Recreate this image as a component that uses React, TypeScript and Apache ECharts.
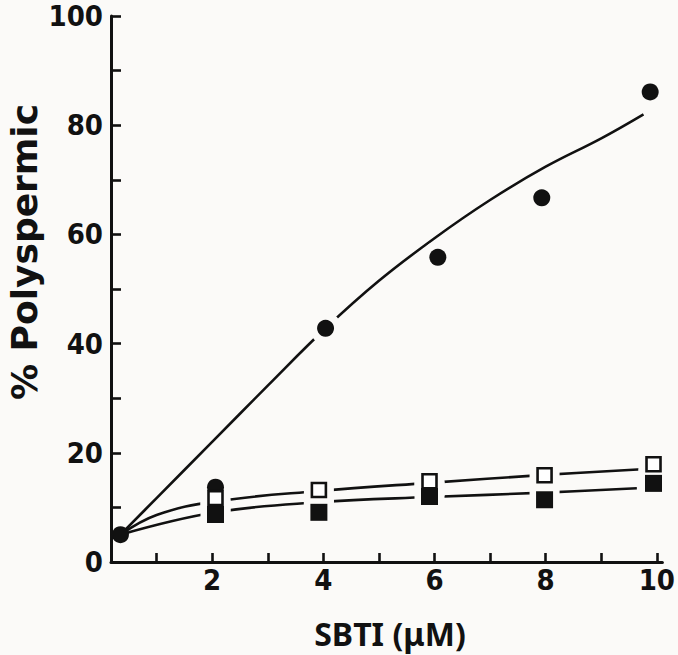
import React, { useEffect, useRef } from "react";
import * as echarts from "echarts";

// ---- data ----
// Filled circles (marker positions)
const circleX = [0.35, 2.06, 4.04, 6.06, 7.93, 9.88];
const circleY = [5, 13.7, 42.8, 55.8, 66.7, 86.1];
// Open squares
const openX = [2.06, 3.92, 5.91, 7.98, 9.94];
const openY = [11.7, 13.2, 14.8, 15.9, 17.9];
// Filled squares
const filledX = [2.06, 3.92, 5.91, 7.98, 9.94];
const filledY = [8.7, 9.1, 12.0, 11.4, 14.4];
// Fitted curve through circles
const circleFitX = [0.35, 1, 2, 3, 4.04, 5, 6, 7, 8, 9, 9.76];
const circleFitY = [5, 11.7, 22, 32.3, 42.8, 51.5, 59.3, 66.3, 72.4, 77.6, 82];
// Fitted line through open squares
const openFitX = [0.35, 1.0, 2.06, 3.92, 5.91, 7.98, 9.73];
const openFitY = [5, 8.6, 11.1, 13.0, 14.5, 15.95, 17.0];
// Fitted line through filled squares
const filledFitX = [0.35, 2.06, 3.92, 5.91, 7.98, 9.64];
const filledFitY = [5, 9.1, 10.95, 11.9, 12.7, 13.5];
// Axis ticks / labels
const xTicks = [1, 2, 3, 4, 5, 6, 7, 8, 9, 10];
const xLabels = [2, 4, 6, 8, 10];
const yTicks = [0, 10, 20, 30, 40, 50, 60, 70, 80, 90, 100];
const yLabels = [0, 20, 40, 60, 80, 100];

const xTitle = "SBTI (\u03bcM)";
const yTitle = "% Polyspermic";

const BG = "#fbfaf8";
const INK = "#111111";
const NUM_FONT = "'Liberation Sans Narrow', 'DejaVu Sans Condensed', Lato, sans-serif";

const zip = (xs: number[], ys: number[]) => xs.map((x, i) => [x, ys[i]]);

export default function App() {
  const ref = useRef<HTMLDivElement | null>(null);

  useEffect(() => {
    if (!ref.current) return;
    const chart = echarts.init(ref.current, null, { renderer: "svg" });

    const axisCommon = {
      type: "value" as const,
      axisLine: { show: true, onZero: false, lineStyle: { color: INK, width: 3 } },
      splitLine: { show: false },
    };

    const halo = (data: number[][], symbol: string, size: number) => ({
      type: "scatter",
      data,
      symbol,
      symbolSize: size,
      itemStyle: { color: BG, opacity: 1, borderWidth: 0 },
      emphasis: { disabled: true },
      z: 3,
      silent: true,
    });

    chart.setOption({
      animation: false,
      backgroundColor: BG,
      grid: { left: 111, right: 9, top: 16, bottom: 93, containLabel: false },
      xAxis: {
        ...axisCommon,
        min: 0.18,
        max: 10.1,
        axisTick: {
          show: true,
          inside: true,
          length: 9,
          customValues: xTicks,
          lineStyle: { color: INK, width: 2.6 },
        },
        axisLabel: {
          customValues: xLabels,
          margin: 3,
          fontSize: 29,
          fontWeight: "bold",
          fontFamily: NUM_FONT,
          color: INK,
        },
      },
      yAxis: {
        ...axisCommon,
        min: 0,
        max: 100,
        axisTick: {
          show: true,
          inside: true,
          length: 10,
          customValues: yTicks,
          lineStyle: { color: INK, width: 2.6 },
        },
        axisLabel: {
          customValues: yLabels,
          margin: 8,
          fontSize: 29,
          fontWeight: "bold",
          fontFamily: NUM_FONT,
          color: INK,
        },
      },
      graphic: [
        {
          type: "text",
          x: 390,
          y: 633,
          style: {
            text: xTitle,
            fill: INK,
            font: "bold 32px 'Noto Sans', sans-serif",
            lineHeight: 34,
            textAlign: "center",
            textVerticalAlign: "middle",
          },
        },
        {
          type: "text",
          x: 24,
          y: 252,
          rotation: Math.PI / 2,
          style: {
            text: yTitle,
            fill: INK,
            font: "bold 36px 'DejaVu Sans', sans-serif",
            textAlign: "center",
            textVerticalAlign: "middle",
          },
        },
      ],
      series: [
        {
          type: "line",
          data: zip(circleFitX, circleFitY),
          showSymbol: false,
          smooth: 0.4,
          lineStyle: { color: INK, width: 2.6 },
          z: 1,
          silent: true,
        },
        {
          type: "line",
          data: zip(openFitX, openFitY),
          showSymbol: false,
          smooth: 0.4,
          lineStyle: { color: INK, width: 2.6 },
          z: 1,
          silent: true,
        },
        {
          type: "line",
          data: zip(filledFitX, filledFitY),
          showSymbol: false,
          smooth: 0.4,
          lineStyle: { color: INK, width: 2.6 },
          z: 1,
          silent: true,
        },
        // halos that break the lines around the markers
        halo(zip(circleX.slice(1), circleY.slice(1)), "circle", 32),
        halo(zip(openX, openY), "rect", 30),
        halo(zip(filledX, filledY), "rect", 30),
        // markers
        {
          type: "scatter",
          data: zip(circleX, circleY),
          symbol: "circle",
          symbolSize: 17,
          itemStyle: { color: INK, opacity: 1 },
          z: 4,
        },
        {
          type: "scatter",
          data: zip(filledX, filledY),
          symbol: "rect",
          symbolSize: 17,
          itemStyle: { color: INK, opacity: 1 },
          z: 5,
        },
        {
          type: "scatter",
          data: zip(openX, openY),
          symbol: "rect",
          symbolSize: 14,
          itemStyle: { color: "#ffffff", borderColor: INK, borderWidth: 2.6, opacity: 1 },
          z: 6,
        },
      ],
    });

    return () => chart.dispose();
  }, []);

  return (
    <div
      ref={ref}
      style={{ position: "fixed", left: 0, top: 0, width: 678, height: 655, background: BG }}
    />
  );
}
